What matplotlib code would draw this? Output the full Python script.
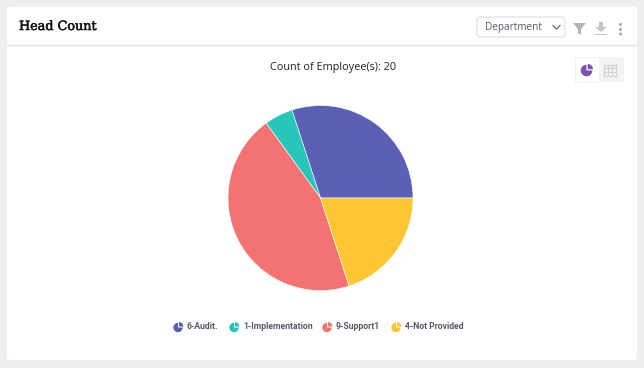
import matplotlib
matplotlib.use('Agg')
import matplotlib.pyplot as plt
import matplotlib.patheffects as pe
from matplotlib.patches import FancyBboxPatch, Rectangle, Wedge, Circle, Polygon

# chart data
categories = ['6-Audit.', '1-Implementation', '9-Support1', '4-Not Provided']
counts = [6, 1, 9, 4]
colors = ['#5C60B5', '#26C6BA', '#F47372', '#FFC532']
legend_x = [179, 235, 328, 397]
total_label = 'Count of Employee(s): 20'

W, H = 644, 368
fig = plt.figure(figsize=(W / 100, H / 100), dpi=100, facecolor='#EFEFEF')

# background axes in pixel coordinates, y going down
bg = fig.add_axes([0, 0, 1, 1])
bg.set_xlim(0, W)
bg.set_ylim(H, 0)
bg.axis('off')

# card
bg.add_patch(FancyBboxPatch((7, 7), 630, 353, boxstyle='round,pad=0,rounding_size=3',
                            fc='white', ec='none'))
bg.plot([7, 637], [45, 45], color='#E4E4E4', lw=1)
# slight stroke, the original slab face sits between regular and bold
title = bg.text(19, 26.5, 'Head Count', family='DejaVu Serif', fontsize=9.2,
                color='#111111', va='center')
title.set_path_effects([pe.withStroke(linewidth=0.35, foreground='#111111')])
bg.text(333, 67.5, total_label, family='Open Sans', fontsize=7.8, color='#222222',
        ha='center', va='center')

# department dropdown
bg.add_patch(FancyBboxPatch((477, 17), 88, 20, boxstyle='round,pad=0,rounding_size=3',
                            fc='white', ec='#DDDDDD', lw=0.8))
bg.text(485, 27.5, 'Department', family='Open Sans', fontsize=7.2, color='#555B66', va='center')
bg.plot([553, 556.5, 560], [25.5, 29, 25.5], color='#555555', lw=0.8)

# filter, download and menu icons
bg.add_patch(Polygon([(573, 23), (586, 23), (581, 29), (581, 35), (578, 33), (578, 29)],
                     fc='#B5B5B5', ec='none'))
bg.add_patch(Polygon([(599, 22), (603, 22), (603, 27), (607, 27), (601, 32), (595, 27), (599, 27)],
                     fc='#C4C4C4', ec='none'))
bg.add_patch(Rectangle((595, 33.5), 12, 1.6, fc='#C4C4C4', ec='none'))
for y in [24.5, 29.5, 34]:
    bg.add_patch(Circle((620.5, y), 1.5, fc='#ABABAB', ec='none'))

# pie / table toggle
bg.add_patch(FancyBboxPatch((575, 57), 49, 25, boxstyle='round,pad=0,rounding_size=3',
                            fc='#F3F3F3', ec='none'))
bg.add_patch(Rectangle((575, 57), 24, 25, fc='white', ec='#EEEEEE', lw=0.5))
# y axis is flipped here, so 0-270 leaves the top right quarter open
bg.add_patch(Wedge((586.5, 70.5), 5.8, 0, 270, fc='#7A52B8', ec='none'))
bg.add_patch(Wedge((587.7, 69.3), 5.3, 270, 360, fc='#7A52B8', ec='none'))
for i in range(4):
    bg.plot([604.5 + i * 4, 604.5 + i * 4], [64.5, 75.5], color='#D2D2D2', lw=0.8)
    bg.plot([604.5, 616.5], [64.5 + i * 3.67, 64.5 + i * 3.67], color='#D2D2D2', lw=0.8)

# legend
for name, color, x in zip(categories, colors, legend_x):
    bg.add_patch(Wedge((x - 1, 327.5), 4.7, 0, 270, fc=color, ec='none'))
    bg.add_patch(Wedge((x, 326.5), 4.4, 270, 360, fc=color, ec='none'))
    bg.text(x + 8, 326.3, name, family='Roboto', fontsize=6.2, weight='bold',
            color='#555B66', va='center')

# pie, centred at (320.5, 198) with a radius of 92.5 px
cx, cy, r = 320.5, 198, 92.5
ax = fig.add_axes([(cx - r) / W, 1 - (cy + r) / H, 2 * r / W, 2 * r / H])
ax.pie(counts, colors=colors, startangle=0, counterclock=True, radius=1,
       wedgeprops={'edgecolor': 'white', 'linewidth': 0.4})
ax.set_xlim(-1, 1)
ax.set_ylim(-1, 1)

fig.savefig('out.png', dpi=100, facecolor=fig.get_facecolor())
